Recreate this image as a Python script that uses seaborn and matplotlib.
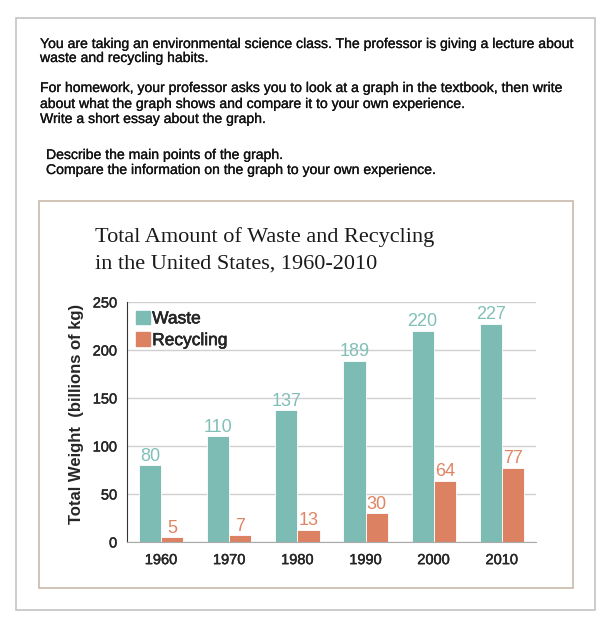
import pandas as pd
import matplotlib
matplotlib.use("Agg")
import matplotlib.pyplot as plt
import matplotlib.patches as mpatches
import matplotlib.patheffects as pe
from matplotlib.ticker import FixedLocator
import seaborn as sns

years = ["1960", "1970", "1980", "1990", "2000", "2010"]
waste = [80, 110, 137, 189, 220, 227]
recycling = [5, 7, 13, 30, 64, 77]
series_names = ["Waste", "Recycling"]
y_ticks = [0, 50, 100, 150, 200, 250]

prompt_lines = [
    ("You are taking an environmental science class. The professor is giving a lecture about", 40, 44),
    ("waste and recycling habits.", 40, 58),
    ("For homework, your professor asks you to look at a graph in the textbook, then write", 40, 88),
    ("about what the graph shows and compare it to your own experience.", 40, 104),
    ("Write a short essay about the graph.", 40, 119),
    ("Describe the main points of the graph.", 46, 155),
    ("Compare the information on the graph to your own experience.", 46, 170),
]
title_lines = [
    ("Total Amount of Waste and Recycling", 242),
    ("in the United States, 1960-2010", 269),
]

TEAL = "#7dbcb4"
ORANGE = "#dc8262"
W, H = 610, 630


def fx(x):
    return x / W


def fy(y):
    return 1 - y / H


def thicken(w):
    return [pe.withStroke(linewidth=w, foreground="#111111")]


df = pd.DataFrame({
    "year": years * 2,
    "weight": waste + recycling,
    "type": [series_names[0]] * len(years) + [series_names[1]] * len(years),
})

sns.set_style("white")
plt.rcParams["font.family"] = ["Liberation Sans", "DejaVu Sans"]

fig = plt.figure(figsize=(W / 100, H / 100), dpi=100)

# outer and inner boxes
fig.add_artist(mpatches.Rectangle((fx(16), fy(610)), fx(595) - fx(16), fy(18) - fy(610),
                                  fill=False, edgecolor="#c4c4c4", lw=1.2))
fig.add_artist(mpatches.Rectangle((fx(39), fy(588)), fx(573) - fx(39), fy(201) - fy(588),
                                  fill=False, edgecolor="#c9b9a8", lw=1.2))

for txt, x, y in prompt_lines:
    fig.text(fx(x), fy(y), txt, fontsize=10.1, va="center", ha="left", color="#111111",
             path_effects=thicken(0.2))

for txt, y in title_lines:
    fig.text(fx(95), fy(y), txt, family=["Liberation Serif", "DejaVu Serif"], fontsize=16,
             va="baseline", ha="left", color="#1a1a1a")

ax = fig.add_axes([fx(127), fy(542), fx(536) - fx(127), fy(302) - fy(542)])
sns.barplot(data=df, x="year", y="weight", hue="type", palette=[TEAL, ORANGE],
            width=0.65, saturation=1, edgecolor="white", linewidth=0.6, ax=ax)

for cont, col in zip(ax.containers, ["#80c0b8", "#e08462"]):
    ax.bar_label(cont, fmt="%d", color=col, fontsize=13, padding=0.5)

ax.set_ylim(0, 250)
ax.set_xlim(-0.5, 5.5)
ax.set_yticks(y_ticks)
ax.yaxis.grid(True, color="#d0d0d0", lw=1)
ax.set_axisbelow(True)
ax.xaxis.set_minor_locator(FixedLocator([i - 0.5 for i in range(len(years) + 1)]))
ax.tick_params(axis="x", which="major", length=0, labelsize=10.5, pad=8)
ax.tick_params(axis="x", which="minor", length=5, width=1, color="#333333", direction="out")
ax.tick_params(axis="y", length=5, width=1, color="#333333", direction="out", labelsize=10.5, pad=2)
for lab in ax.get_xticklabels() + ax.get_yticklabels():
    lab.set_path_effects(thicken(0.3))
for s in ["top", "right"]:
    ax.spines[s].set_visible(False)
ax.spines["bottom"].set_color("#aaaaaa")
ax.spines["left"].set_color("#333333")
ax.set_xlabel("")
ax.set_ylabel("Total Weight  (billions of kg)", fontsize=12, fontweight="bold")
ax.yaxis.set_label_coords(-0.105, 0.533)

handles = [mpatches.Patch(color=TEAL), mpatches.Patch(color=ORANGE)]
leg = ax.legend(handles, series_names, loc="upper left", bbox_to_anchor=(0.0, 1.0), frameon=False,
                fontsize=12.5, handlelength=0.8, handleheight=0.8, handletextpad=0.15,
                labelspacing=0.35, borderaxespad=0.1)
for t in leg.get_texts():
    t.set_path_effects(thicken(0.4))

fig.savefig("out.png", dpi=100)
